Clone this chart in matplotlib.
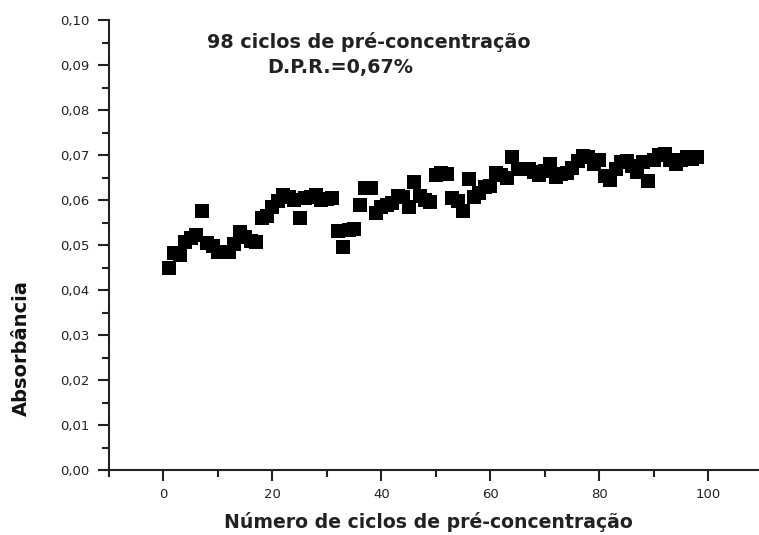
import numpy as np
import matplotlib
matplotlib.use("Agg")
import matplotlib.pyplot as plt
from matplotlib.ticker import MultipleLocator, FuncFormatter

# absorbance readings for each pre-concentration cycle
ciclos = np.arange(1, 99)
absorbancia = [
    0.0449, 0.0482, 0.0478, 0.0507, 0.0515, 0.0522, 0.0576, 0.0504, 0.0497, 0.0485,
    0.0485, 0.0485, 0.0502, 0.0530, 0.0517, 0.0510, 0.0507, 0.0559, 0.0565, 0.0584,
    0.0598, 0.0611, 0.0607, 0.0601, 0.0559, 0.0604, 0.0607, 0.0611, 0.0600, 0.0603,
    0.0604, 0.0532, 0.0495, 0.0533, 0.0535, 0.0589, 0.0626, 0.0626, 0.0572, 0.0585,
    0.0589, 0.0593, 0.0609, 0.0607, 0.0584, 0.0639, 0.0609, 0.0600, 0.0596, 0.0656,
    0.0661, 0.0658, 0.0604, 0.0598, 0.0576, 0.0646, 0.0607, 0.0615, 0.0628, 0.0632,
    0.0659, 0.0655, 0.0650, 0.0696, 0.0668, 0.0668, 0.0670, 0.0662, 0.0656, 0.0665,
    0.0681, 0.0652, 0.0658, 0.0661, 0.0672, 0.0687, 0.0698, 0.0695, 0.0680, 0.0689,
    0.0654, 0.0644, 0.0670, 0.0684, 0.0686, 0.0675, 0.0663, 0.0684, 0.0643, 0.0689,
    0.0700, 0.0702, 0.0690, 0.0681, 0.0690, 0.0696, 0.0692, 0.0696,
]

titulo = "98 ciclos de pré-concentração"
dpr = "D.P.R.=0,67%"

fig = plt.figure(figsize=(7.59, 5.35), dpi=100)
ax = fig.add_axes([109 / 759, 65 / 535, 650 / 759, 450 / 535])

ax.plot(ciclos, absorbancia, linestyle="none", marker="s", markersize=9.8,
        color="black", markeredgewidth=0)

ax.set_xlim(-10, 109.3)
ax.set_ylim(0, 0.10)

ax.spines["top"].set_visible(False)
ax.spines["right"].set_visible(False)
for s in ("left", "bottom"):
    ax.spines[s].set_linewidth(1.5)
    ax.spines[s].set_color("#222222")

ax.xaxis.set_major_locator(MultipleLocator(20))
ax.xaxis.set_minor_locator(MultipleLocator(10))
ax.yaxis.set_major_locator(MultipleLocator(0.01))
ax.yaxis.set_minor_locator(MultipleLocator(0.005))
ax.yaxis.set_major_formatter(FuncFormatter(lambda v, p: f"{v:.2f}".replace(".", ",")))

ax.tick_params(which="major", direction="out", length=8, width=1.5, color="#222222",
               labelsize=9.5, labelcolor="#222222")
ax.tick_params(which="minor", direction="out", length=5, width=1.5, color="#222222")
ax.tick_params(axis="y", pad=6)
ax.tick_params(axis="x", pad=5)
for lbl in ax.get_xticklabels() + ax.get_yticklabels():
    lbl.set_family("DejaVu Sans")

ax.set_xlabel("Número de ciclos de pré-concentração", fontsize=13.6, fontweight="bold",
              family="DejaVu Sans", color="#222222")
ax.xaxis.label.set_va("center")
ax.xaxis.set_label_coords(0.492, -0.1156)

ax.set_ylabel("Absorbância", fontsize=14, fontweight="bold", family="Liberation Sans Narrow",
              color="#111111")
ax.yaxis.label.set_va("center")
ax.yaxis.set_label_coords(-0.134, 0.271)

fig.text(369 / 759, 1 - 42 / 535, titulo, fontsize=13.8, fontweight="bold",
         ha="center", va="center", family="DejaVu Sans", color="#222222")
fig.text(340 / 759, 1 - 68 / 535, dpr, fontsize=13.8, fontweight="bold",
         ha="center", va="center", family="DejaVu Sans", color="#222222")

fig.savefig("out.png", dpi=100)
